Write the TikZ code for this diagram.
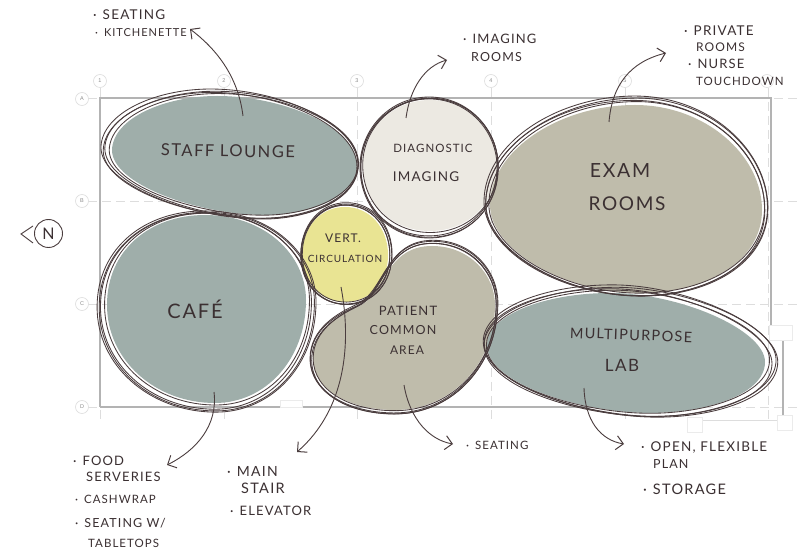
\documentclass[tikz,border=0pt]{standalone}
\usepackage{fontspec}
\setmainfont{Lato}
\newfontfamily\hand[LetterSpace=9]{Lato}
\newfontfamily\gridfont{Liberation Sans}
\usetikzlibrary{arrows.meta}
\definecolor{teal}{HTML}{9FAEAA}
\definecolor{cream}{HTML}{ECE9E2}
\definecolor{tan}{HTML}{BFBCAB}
\definecolor{yel}{HTML}{E9E493}
\definecolor{ink}{HTML}{4A3D3E}
\definecolor{txt}{HTML}{3B3032}
\definecolor{frame}{HTML}{B3B3B3}
\definecolor{gridc}{HTML}{DDDDDD}
\newcommand{\bl}{·\hspace{6pt}}
\tikzset{
  gridline/.style={draw=gridc,line width=.6pt,dash pattern=on 9pt off 5pt},
  frameline/.style={draw=frame,line width=2.6pt},
  thinline/.style={draw=gridc,line width=.7pt},
  bubble/.style={circle,draw=gridc,line width=.6pt,fill=white,minimum size=13pt,inner sep=0pt,text=black!45,font=\gridfont\fontsize{5.5}{6}\selectfont},
  whitebox/.style={rectangle,draw=black!8,fill=white,line width=.4pt,inner sep=0pt},
  sketch/.style={draw=ink,line width=.85pt},
  roomtext/.style={text=txt,inner sep=0pt,font=\hand\fontsize{#1}{#1}\selectfont},
  notetext/.style={text=txt,inner sep=0pt,anchor=west,font=\hand\fontsize{#1}{#1}\selectfont},
  callout/.style={draw=ink,line width=.9pt,-{Straight Barb[length=7pt,width=14pt,line width=1pt]}},
}
% #1 centre x, #2 centre y, #3 dx, #4 dy, #5 sx-1, #6 sy-1, #7 path
\newcommand{\blobline}[7]{%
  \foreach \ff/\rr/\jx/\jy in {.3/.7/.6/-.6, .6/-.6/-.6/.7, .82/.9/.4/.6, 1/-.4/0/0}{
    \begin{scope}[shift={(#1+#3*\ff+\jx,#2+#4*\ff+\jy)},rotate=\rr,
        xscale={1+#5*\ff},yscale={1+#6*\ff},shift={(-#1,-#2)}]
      \draw[sketch] #7;
    \end{scope}
  }
}
\begin{document}
\begin{tikzpicture}[x=1pt,y=-1pt]
\useasboundingbox (0,0) rectangle (801,553);
\fill[white] (0,0) rectangle (801,553);

% grid lines
\foreach \gx in {100,224,357,491,625,768}{
  \draw[gridline] (\gx,88) -- (\gx,420);
}
\foreach \gy in {98,201,304,407}{
  \draw[gridline] (88,\gy) -- (801,\gy);
}
% structure frame
\draw[frameline] (100,407) -- (100,98) -- (771,98) -- (771,325);
\draw[frameline] (100,407) -- (600,407);
\draw[draw=frame,line width=1.4pt] (783,340) -- (783,415);
\draw[thinline] (702,420) -- (778,420);
\node[whitebox,minimum width=23pt,minimum height=15pt] (boxa) at (781,333) {};
\node[whitebox,minimum width=15pt,minimum height=15pt] (boxb) at (785,423) {};
\node[whitebox,minimum width=15pt,minimum height=15pt] (boxc) at (695,425) {};
\node[whitebox,minimum width=22pt,minimum height=7pt] (boxd) at (291,404) {};

% grid bubbles
\node[bubble] (g1) at (100,81) {1};
\node[bubble] (g2) at (224,81) {2};
\node[bubble] (g3) at (357,81) {3};
\node[bubble] (g4) at (491,81) {4};
\node[bubble] (g5) at (625,81) {5};
\node[bubble] (g6) at (767,81) {};
\node[bubble] (ga) at (82,99) {A};
\node[bubble] (gb) at (82,201) {B};
\node[bubble] (gc) at (82,304) {C};
\node[bubble] (gd) at (82,407) {D};

% shapes
\def\pStaff{(112,150) .. controls (113,118) and (165,96) .. (217,96) .. controls (285,96) and (357,128) .. (357,165) .. controls (357,197) and (310,215) .. (265,215) .. controls (200,215) and (112,185) .. (112,150) -- cycle}
\def\pCafe{(107,305) .. controls (107,250) and (150,215) .. (205,215) .. controls (265,215) and (306,255) .. (306,300) .. controls (306,360) and (265,403) .. (215,403) .. controls (155,403) and (107,360) .. (107,305) -- cycle}
\def\pVert{(302,255) .. controls (302,228) and (320,207) .. (345,207) .. controls (370,207) and (388,228) .. (388,255) .. controls (388,282) and (370,302) .. (345,302) .. controls (320,302) and (302,282) .. (302,255) -- cycle}
\def\pDiag{(363,165) .. controls (363,130) and (392,100) .. (430,100) .. controls (468,100) and (497,130) .. (497,165) .. controls (497,203) and (468,231) .. (430,231) .. controls (392,231) and (363,203) .. (363,165) -- cycle}
\def\pExam{(490,205) .. controls (490,150) and (560,105) .. (635,105) .. controls (705,105) and (762,155) .. (762,210) .. controls (762,262) and (705,293) .. (640,293) .. controls (565,293) and (490,250) .. (490,205) -- cycle}
\def\pPat{(313,358) .. controls (313,330) and (340,315) .. (358,307) .. controls (385,295) and (385,246) .. (432,246) .. controls (470,246) and (495,275) .. (495,305) .. controls (495,365) and (450,410) .. (395,410) .. controls (350,410) and (313,390) .. (313,358) -- cycle}
\def\pLab{(487,345) .. controls (487,315) and (545,293) .. (610,293) .. controls (680,293) and (765,330) .. (765,362) .. controls (765,395) and (705,413) .. (650,413) .. controls (585,413) and (487,385) .. (487,345) -- cycle}

\fill[teal] \pStaff;
\fill[teal] \pCafe;
\fill[cream] \pDiag;
\fill[tan] \pExam;
\fill[tan] \pPat;
\fill[teal] \pLab;
\fill[yel] \pVert;

% sketched outlines
\blobline{234.5}{155.5}{-5}{-1.5}{.05}{.09}{\pStaff}
\blobline{206.5}{309}{0}{2.5}{.10}{.07}{\pCafe}
\blobline{430}{165.5}{-1}{2}{.03}{.076}{\pDiag}
\blobline{626}{199}{0}{-3}{.044}{.064}{\pExam}
\blobline{404}{328}{0}{-1}{.03}{.06}{\pPat}
\blobline{626}{353}{4.5}{-2}{.06}{.10}{\pLab}
\blobline{345}{254.5}{1.5}{-1}{.06}{.07}{\pVert}

% room labels
\node[roomtext=16.5,rotate=-1] (staff) at (228,151) {STAFF LOUNGE};
\node[roomtext=11.5] (diag1) at (433,148) {DIAGNOSTIC};
\node[roomtext=13.5] (diag2) at (426,177) {IMAGING};
\node[roomtext=19.5] (exam1) at (620,171) {EXAM};
\node[roomtext=19] (exam2) at (627,204) {ROOMS};
\node[roomtext=20] (cafe) at (195,309) {CAFÉ};
\node[roomtext=12] (vert1) at (343,238) {VERT.};
\node[roomtext=10] (vert2) at (345,259) {CIRCULATION};
\node[roomtext=13] (pat1) at (408,311) {PATIENT};
\node[roomtext=12.5] (pat2) at (403,330) {COMMON};
\node[roomtext=12] (pat3) at (407,350) {AREA};
\node[roomtext=14.5,rotate=-2] (lab1) at (631,335) {MULTIPURPOSE};
\node[roomtext=17] (lab2) at (622,365) {LAB};

% notes
\node[notetext=13.5] (n1) at (93,15) {\bl SEATING};
\node[notetext=11] (n2) at (95,33) {\bl KITCHENETTE};
\node[notetext=13] (n3) at (463,39) {\bl IMAGING};
\node[notetext=12.5] (n4) at (471,57) {ROOMS};
\node[notetext=13.5] (n5) at (684,31) {\bl PRIVATE};
\node[notetext=12] (n6) at (696,47) {ROOMS};
\node[notetext=13] (n7) at (688,64) {\bl NURSE};
\node[notetext=11.5] (n8) at (696,81) {TOUCHDOWN};
\node[notetext=13] (n9) at (73,461) {\bl FOOD};
\node[notetext=13] (n10) at (86,477) {SERVERIES};
\node[notetext=11.5] (n11) at (75,499) {\bl CASHWRAP};
\node[notetext=12.5] (n12) at (75,523) {\bl SEATING W/};
\node[notetext=11.5] (n13) at (88,543) {TABLETOPS};
\node[notetext=14] (n14) at (227,471) {\bl MAIN};
\node[notetext=14.5] (n15) at (241,488) {STAIR};
\node[notetext=13] (n16) at (230,511) {\bl ELEVATOR};
\node[notetext=11.5] (n17) at (466,445) {\bl SEATING};
\node[notetext=13.5] (n18) at (641,448) {\bl OPEN, FLEXIBLE};
\node[notetext=12.5] (n19) at (653,464) {PLAN};
\node[notetext=14.5] (n20) at (643,489) {\bl STORAGE};

% north mark
\node[circle,draw=ink,line width=.9pt,minimum size=28pt,inner sep=0pt,text=txt,font=\hand\fontsize{16}{16}\selectfont] (north) at (48.5,233.5) {N};
\coordinate (nt) at (33,226);
\coordinate (nm) at (21,234);
\coordinate (nb) at (33,243);
\draw[draw=ink,line width=.9pt] (nt) -- (nm) -- (nb);

% callouts
\coordinate (a1) at (243,116); \coordinate (a2) at (190,29);
\coordinate (b1) at (406,118); \coordinate (b2) at (447,60);
\coordinate (c1) at (609,122); \coordinate (c2) at (666,53);
\coordinate (d1) at (214,392); \coordinate (d2) at (167,465);
\coordinate (e1) at (341,287); \coordinate (e2) at (297,452);
\coordinate (f1) at (404,385); \coordinate (f2) at (453,444);
\coordinate (h1) at (584,388); \coordinate (h2) at (624,444);
\draw[callout] (a1) .. controls (238,75) and (215,48) .. (a2);
\draw[callout] (b1) .. controls (410,88) and (425,66) .. (b2);
\draw[callout] (c1) .. controls (612,85) and (630,62) .. (c2);
\draw[callout] (d1) .. controls (218,425) and (197,450) .. (d2);
\draw[callout] (e1) .. controls (352,345) and (345,410) .. (e2);
\draw[callout] (f1) .. controls (410,420) and (430,440) .. (f2);
\draw[callout] (h1) .. controls (585,420) and (600,440) .. (h2);
\end{tikzpicture}
\end{document}
